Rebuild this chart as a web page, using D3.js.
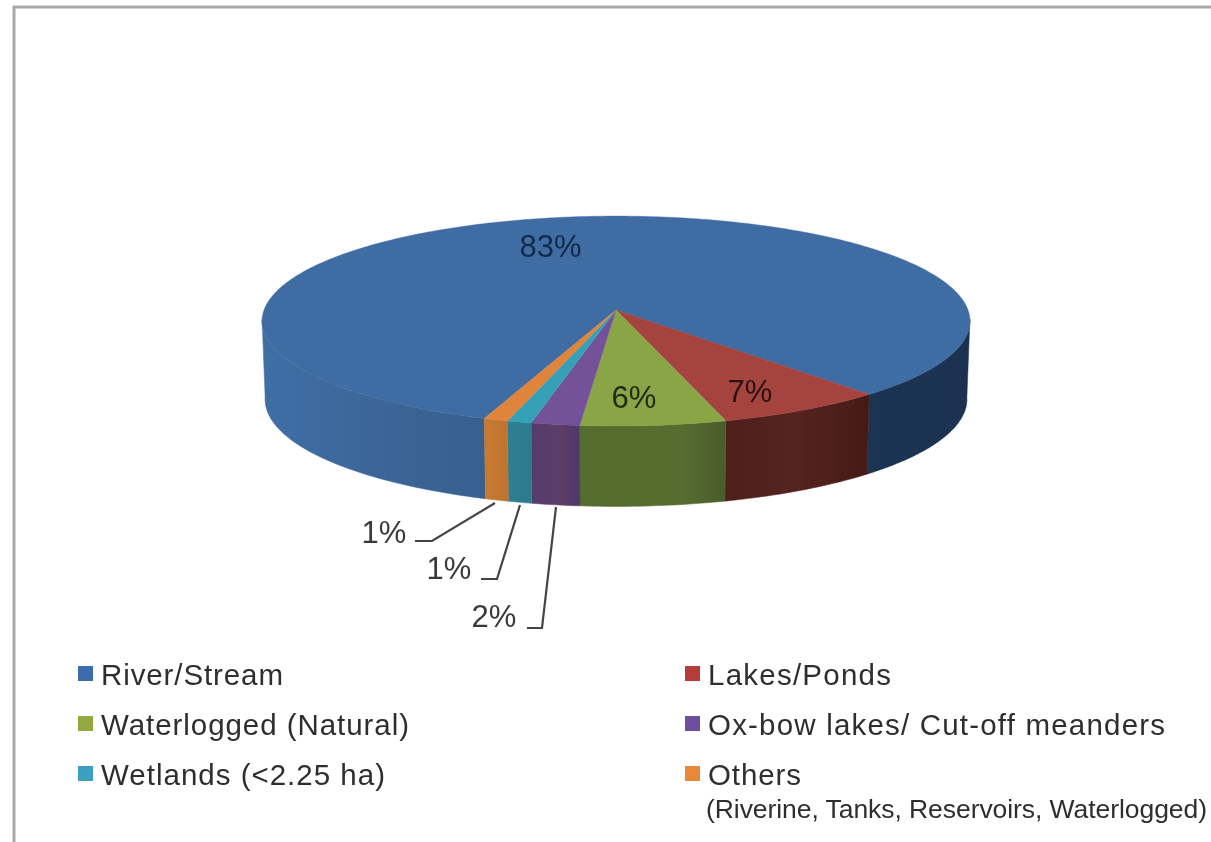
<!DOCTYPE html>
<html>
<head>
<meta charset="utf-8">
<script src="https://cdn.jsdelivr.net/npm/d3@7"></script>
<style>
html,body{margin:0;padding:0;background:#fff;overflow:hidden}
svg{display:block;filter:blur(0.55px)}
text{font-family:"Liberation Sans",Arial,sans-serif}
</style>
</head>
<body>
<svg id="chart" width="1211" height="842"></svg>
<script>
// ---- data ----
const categories = ["River/Stream","Lakes/Ponds","Waterlogged (Natural)","Ox-bow lakes/ Cut-off meanders","Wetlands (<2.25 ha)","Others"];
const shares = [83,7,6,2,1,1];
const shareLabels = ["83%","7%","6%","2%","1%","1%"];
const legendNote = "(Riverine, Tanks, Reservoirs, Waterlogged)";

// ---- style tables ----
const topColors  = ["#3f6ca3","#a5443f","#8aa546","#73529a","#35a0b8","#df843a"];
const legendColors = ["#3c6cae","#b53c3a","#93a93f","#6e4e9e","#3c9fbf","#e8883a"];
const sideStops = [
  [[0,"#3f6ea6"],[0.5,"#3c6698"],[1,"#38608f"]],
  [[0,"#4f1f1c"],[0.5,"#552320"],[1,"#451a14"]],
  [[0,"#566d30"],[0.7,"#566d30"],[1,"#4a5c2c"]],
  [[0,"#553b6c"],[0.6,"#5d3d68"],[1,"#4f3869"]],
  [[0,"#2e7f92"],[1,"#2d7a8c"]],
  [[0,"#c87a30"],[1,"#be732f"]]
];
const blueBackStops = [[0,"#1b3453"],[1,"#1c3150"]];

// ---- projection of the tilted disc ----
const cx = 616, cy = 310, k = 0.105;
const topDisc = {R:352, Ry:103.8, dy:0};
const botDisc = {R:349, Ry:106, dy:78};
function project(a, d){
  const u = Math.sin(a), v = -Math.cos(a), w = 1 - k*v;
  return [cx + d.R*u/w, cy + d.dy + d.Ry*v/w];
}
const rad = d => d*Math.PI/180;
const pie = d3.pie().sort(null).startAngle(rad(-160.3)).endAngle(rad(-160.3)+2*Math.PI);
const arcs = pie(shares);
const line = d3.line();
const sample = (a0,a1) => { const n = Math.max(2,Math.ceil(Math.abs(a1-a0)/rad(1))); return d3.range(n+1).map(i=>a0+(a1-a0)*i/n); };

const svg = d3.select("#chart");
const defs = svg.append("defs");

// frame
svg.append("path").attr("d",line([[14,842],[14,7],[1211,7]]))
  .attr("fill","none").attr("stroke","#a9a9a9").attr("stroke-width",3);

function gradient(id,x0,x1,stops){
  const g = defs.append("linearGradient").attr("id",id).attr("gradientUnits","userSpaceOnUse")
    .attr("x1",x0).attr("x2",x1).attr("y1",0).attr("y2",0);
  stops.forEach(s=>g.append("stop").attr("offset",s[0]).attr("stop-color",s[1]));
}
function wall(a0,a1,id,stops){
  const top = sample(a0,a1).map(a=>project(a,topDisc));
  const bot = sample(a1,a0).map(a=>project(a,botDisc));
  const xs = top.concat(bot).map(p=>p[0]);
  gradient(id,d3.min(xs),d3.max(xs),stops);
  svg.append("path").attr("d",line(top.concat(bot))+"Z")
    .attr("fill",`url(#${id})`).attr("stroke",`url(#${id})`).attr("stroke-width",0.5);
}

// visible wall range (front of the disc), expressed in pie angles
const frontRight = rad(95), frontLeft = rad(265);
const norm = a => a < 0 ? a + 2*Math.PI : a;
arcs.forEach((d,i)=>{
  if(i===0){
    wall(norm(d.endAngle)-0,frontRight,"wall-back",blueBackStops);   // right part of the first slice
    wall(frontLeft,norm(d.startAngle),"wall-0",sideStops[0]);         // left part
  } else {
    wall(d.startAngle,d.endAngle,"wall-"+i,sideStops[i]);
  }
});

// top face
arcs.forEach((d,i)=>{
  const pts = [[cx,cy]].concat(sample(d.startAngle,d.endAngle).map(a=>project(a,topDisc)));
  svg.append("path").attr("d",line(pts)+"Z").attr("fill",topColors[i])
    .attr("stroke",topColors[i]).attr("stroke-width",0.4);
});

// value labels on the disc
const inside = [
  {i:0, x:550.5, y:257, c:"#13294b"},
  {i:1, x:750, y:402, c:"#2a1210"},
  {i:2, x:634, y:408, c:"#1f2b10"}
];
svg.selectAll("text.val").data(inside).join("text").attr("class","val")
  .attr("x",d=>d.x).attr("y",d=>d.y).attr("text-anchor","middle")
  .attr("font-size",31).attr("fill",d=>d.c).text(d=>shareLabels[d.i]);

// outside labels with leaders
const outside = [
  {i:5, x:384, y:543, path:[[415,541],[432,541],[495,503]]},
  {i:4, x:449, y:579, path:[[481,579],[497,579],[520,505]]},
  {i:3, x:494, y:627, path:[[527,628],[542,628],[556,507]]}
];
outside.forEach(d=>{
  svg.append("path").attr("d",line(d.path)).attr("fill","none").attr("stroke","#444").attr("stroke-width",2.2);
  svg.append("text").attr("x",d.x).attr("y",d.y).attr("text-anchor","middle")
    .attr("font-size",31).attr("fill","#3a3a3a").text(shareLabels[d.i]);
});

// legend
const legendPos = [
  {x:101,y:685,w:182,sx:78},
  {x:708,y:685,w:183,sx:685},
  {x:101,y:735,w:308,sx:78},
  {x:708,y:735,w:457,sx:685},
  {x:101,y:785,w:284,sx:78},
  {x:708,y:785,w:93,sx:685}
];
categories.forEach((c,i)=>{
  const p = legendPos[i];
  svg.append("rect").attr("x",p.sx).attr("y",p.y-19).attr("width",15).attr("height",15).attr("fill",legendColors[i]);
  svg.append("text").attr("x",p.x).attr("y",p.y).attr("font-size",29.5).attr("fill","#2e2e2e")
    .attr("textLength",p.w).attr("lengthAdjust","spacing").text(c);
});
svg.append("text").attr("x",706).attr("y",818).attr("font-size",26.5).attr("fill","#2e2e2e")
  .attr("textLength",501).attr("lengthAdjust","spacing").text(legendNote);
</script>
</body>
</html>
